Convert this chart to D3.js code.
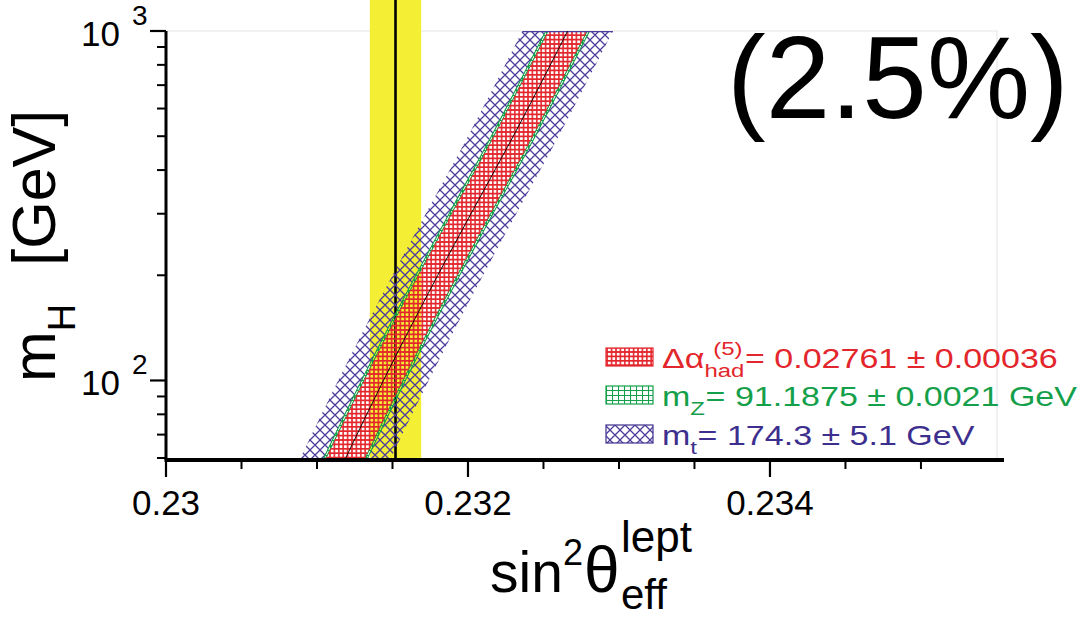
<!DOCTYPE html>
<html>
<head>
<meta charset="utf-8">
<script src="https://cdn.jsdelivr.net/npm/d3@7"></script>
<style>
  html, body { margin: 0; padding: 0; background: #fff; }
  svg { display: block; font-family: "Liberation Sans", Arial, Helvetica, sans-serif; }
</style>
</head>
<body>
<div id="chart"></div>
<script>
// ---- data ----
const mHiggs = [60, 100, 200, 300, 500, 1000];                       // GeV
const sin2Central = [0.23119, 0.23144, 0.23180, 0.23202, 0.23230, 0.23266];
const halfAlpha = 0.00013;   // Δα_had band
const halfMz = 0.000145;     // m_Z band
const halfMt = 0.0003;       // m_t band
const sin2Measured = 0.23152;
const sin2MeasuredErr = 0.00017;

const xMajorTicks = [0.23, 0.232, 0.234];
const xMinorTicks = [0.2305, 0.231, 0.2315, 0.2325, 0.233, 0.2335, 0.2345, 0.235];
const yMajorTicks = [100, 1000];
const yMinorTicks = [60, 70, 80, 90, 200, 300, 400, 500, 600, 700, 800, 900];
const yTickExponents = ['2', '3'];

const legendLabels = [
  { main: 'Δα', sup: '(5)', sub: 'had', rest: '= 0.02761 ± 0.00036', color: '#e3262c', pat: 'patRed' },
  { main: 'm', sup: null, sub: 'Z', rest: '= 91.1875 ± 0.0021 GeV', color: '#14a04a', pat: 'patGreen' },
  { main: 'm', sup: null, sub: 't', rest: '= 174.3 ± 5.1 GeV', color: '#3d2f8e', pat: 'patBlue' },
];

const W = 1081, H = 617;
const RED = '#e3262c', GREEN = '#14a04a', BLUE = '#4b3c9c', YELLOW = '#f4ee35';

const svg = d3.select('#chart').append('svg').attr('width', W).attr('height', H);

const x = d3.scaleLinear().domain([0.23, 0.23555]).range([166, 1004]);
const y = d3.scaleLog().domain([60, 1000]).range([458, 31]);

// ---- patterns ----
const defs = svg.append('defs');
const pr = defs.append('pattern').attr('id', 'patRed').attr('patternUnits', 'userSpaceOnUse')
  .attr('width', 4.4).attr('height', 4.4);
pr.append('path').attr('d', 'M0,0H4.4V4.4H0Z M0.8,0.8H3.6V3.6H0.8Z')
  .attr('fill', RED).attr('fill-rule', 'evenodd');

const pg = defs.append('pattern').attr('id', 'patGreen').attr('patternUnits', 'userSpaceOnUse')
  .attr('width', 6).attr('height', 5);
pg.append('path').attr('d', 'M0,0.5H6 M0.5,0V5').attr('stroke', GREEN).attr('stroke-width', 1.1);

// diagonal cross-hatch, period p
const p = 10;
const pb = defs.append('pattern').attr('id', 'patBlue').attr('patternUnits', 'userSpaceOnUse')
  .attr('width', p).attr('height', p);
pb.append('path')
  .attr('d', `M-1,-1L${p + 1},${p + 1} M-1,${p + 1}L${p + 1},-1 M-${p / 2},${p / 2}L${p / 2},${1.5 * p} M${p / 2},-${p / 2}L${1.5 * p},${p / 2} M-${p / 2},${p / 2}L${p / 2},-${p / 2} M${p / 2},${1.5 * p}L${1.5 * p},${p / 2}`)
  .attr('stroke', BLUE).attr('stroke-width', 1.3).attr('fill', 'none');

defs.append('clipPath').attr('id', 'plotClip').append('rect')
  .attr('x', x(0.23)).attr('y', y(1000)).attr('width', x(0.23555) - x(0.23)).attr('height', y(60) - y(1000));

// ---- frame (light) ----
svg.append('path')
  .attr('d', `M${x(0.23)},${y(1000)}H997V${y(60)}`)
  .attr('fill', 'none').attr('stroke', '#e6e6e6').attr('stroke-width', 1.2);

// ---- measured band ----
svg.append('rect')
  .attr('x', x(sin2Measured - sin2MeasuredErr)).attr('y', 0)
  .attr('width', x(sin2Measured + sin2MeasuredErr) - x(sin2Measured - sin2MeasuredErr))
  .attr('height', y(60))
  .attr('fill', YELLOW);
svg.append('line')
  .attr('x1', x(sin2Measured)).attr('x2', x(sin2Measured))
  .attr('y1', 0).attr('y2', y(60))
  .attr('stroke', '#000').attr('stroke-width', 2.6);

// ---- prediction bands ----
const pts = mHiggs.map((m, i) => ({ m, c: sin2Central[i] }));
const band = (lo, hi) => d3.area()
  .y(d => y(d.m))
  .x0(d => x(d.c + lo))
  .x1(d => x(d.c + hi))
  .curve(d3.curveMonotoneY)(pts);

const bands = svg.append('g').attr('clip-path', 'url(#plotClip)');
[[-halfMt, -halfMz], [halfMz, halfMt]].forEach(([lo, hi]) => {
  bands.append('path').attr('d', band(lo, hi)).attr('fill', 'url(#patBlue)');
});
[[-halfMz, -halfAlpha], [halfAlpha, halfMz]].forEach(([lo, hi]) => {
  bands.append('path').attr('d', band(lo, hi)).attr('fill', 'url(#patGreen)')
    .attr('stroke', GREEN).attr('stroke-width', 1.1);
});
bands.append('path').attr('d', band(-halfAlpha, halfAlpha)).attr('fill', 'url(#patRed)');

// top edge of the mt band
const topPt = pts[pts.length - 1];
bands.append('line')
  .attr('x1', x(topPt.c - halfMt)).attr('x2', x(topPt.c + halfMt))
  .attr('y1', y(1000) + 0.6).attr('y2', y(1000) + 0.6)
  .attr('stroke', BLUE).attr('stroke-width', 1.3);

bands.append('path')
  .attr('d', d3.line().y(d => y(d.m)).x(d => x(d.c)).curve(d3.curveMonotoneY)(pts))
  .attr('fill', 'none').attr('stroke', '#000').attr('stroke-width', 0.9);

// ---- axes ----
const axisG = svg.append('g');
const xAxisY = y(60) + 2;
axisG.append('line').attr('x1', x(0.23) - 1.5).attr('x2', x(0.23555))
  .attr('y1', xAxisY).attr('y2', xAxisY).attr('stroke', '#000').attr('stroke-width', 4);
axisG.append('line').attr('x1', x(0.23)).attr('x2', x(0.23))
  .attr('y1', y(1000)).attr('y2', xAxisY).attr('stroke', '#000').attr('stroke-width', 3);

axisG.selectAll('.xmaj').data(xMajorTicks).join('line')
  .attr('x1', d => x(d)).attr('x2', d => x(d))
  .attr('y1', xAxisY).attr('y2', xAxisY + 17)
  .attr('stroke', '#000').attr('stroke-width', 2.2);
axisG.selectAll('.xmin').data(xMinorTicks).join('line')
  .attr('x1', d => x(d)).attr('x2', d => x(d))
  .attr('y1', xAxisY).attr('y2', xAxisY + 9)
  .attr('stroke', '#000').attr('stroke-width', 2);
axisG.selectAll('.xlab').data(xMajorTicks).join('text')
  .attr('x', d => x(d)).attr('y', 515)
  .attr('text-anchor', 'middle')
  .style('font-size', '35px')
  .text(d => d3.format('.3~f')(d));

axisG.selectAll('.ymaj').data(yMajorTicks).join('line')
  .attr('x1', x(0.23) - 16).attr('x2', x(0.23))
  .attr('y1', d => y(d)).attr('y2', d => y(d))
  .attr('stroke', '#000').attr('stroke-width', 2.2);
axisG.selectAll('.ymin').data(yMinorTicks).join('line')
  .attr('x1', x(0.23) - 9).attr('x2', x(0.23))
  .attr('y1', d => y(d)).attr('y2', d => y(d))
  .attr('stroke', '#000').attr('stroke-width', 2);
yMajorTicks.forEach((d, i) => {
  axisG.append('text').attr('x', 81).attr('y', y(d) + 15)
    .style('font-size', '35px').text('10');
  axisG.append('text').attr('x', 132).attr('y', y(d) - 6)
    .style('font-size', '28px').text(yTickExponents[i]);
});

// ---- axis titles ----
const xt = svg.append('text').attr('x', 490).attr('y', 592).style('font-size', '57px');
xt.append('tspan').text('sin');
xt.append('tspan').attr('dy', -27).style('font-size', '36px').text('2');
xt.append('tspan').attr('dy', 27).attr('dx', 1).style('font-size', '64px').text('θ');
svg.append('text').attr('x', 621).attr('y', 552).style('font-size', '44px').text('lept');
svg.append('text').attr('x', 621).attr('y', 609).style('font-size', '42px').text('eff');

const yt = svg.append('text')
  .attr('transform', 'translate(55,382) rotate(-90)')
  .style('font-size', '61px');
yt.append('tspan').text('m');
yt.append('tspan').attr('dy', 20).style('font-size', '38px').text('H');
yt.append('tspan').attr('dy', -20).attr('dx', 38).text('[GeV]');

// ---- big annotation ----
svg.append('text').attr('x', 727).attr('y', 118).style('font-size', '116px').text('(2.5%)');

// ---- legend ----
const legendY = [368, 406, 445];
const legX = 662, legStretch = 1.26;
legendLabels.forEach((e, i) => {
  const by = legendY[i];
  svg.append('rect').attr('x', 606).attr('y', by - 20).attr('width', 47).attr('height', 18)
    .attr('fill', `url(#${e.pat})`).attr('stroke', e.color).attr('stroke-width', 1.2);
  const g = svg.append('g').style('fill', e.color)
    .attr('transform', `translate(${legX},0) scale(${legStretch},1)`);
  const t1 = g.append('text').attr('x', 0).attr('y', by).style('font-size', '27px').text(e.main);
  const cx = t1.node().getComputedTextLength();
  const sub = g.append('text').attr('x', cx).attr('y', by + 9).style('font-size', '19px').text(e.sub);
  let end = cx + sub.node().getComputedTextLength();
  if (e.sup) {
    const sup = g.append('text').attr('x', cx + 7).attr('y', by - 13).style('font-size', '19px').text(e.sup);
    end = Math.max(end, cx + 7 + sup.node().getComputedTextLength());
  }
  g.append('text').attr('x', end + 0.5).attr('y', by).style('font-size', '27px').text(e.rest);
});
</script>
</body>
</html>
